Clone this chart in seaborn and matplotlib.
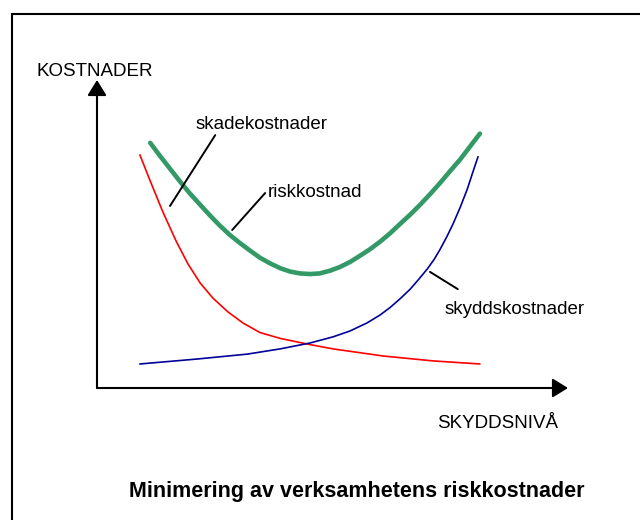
import matplotlib
matplotlib.use('Agg')
import matplotlib.pyplot as plt
from matplotlib.patches import Rectangle
import seaborn as sns
import pandas as pd

# skadekostnader (damage costs) - red
skade_x = [0.91, 1.13, 1.40, 1.68, 1.93, 2.19, 2.46, 2.78, 3.10, 3.46, 3.89, 4.52,
           5.01, 6.07, 7.13, 8.13]
skade_y = [7.57, 6.72, 5.71, 4.77, 4.03, 3.41, 2.92, 2.47, 2.11, 1.80, 1.61, 1.41,
           1.27, 1.04, 0.88, 0.78]

# skyddskostnader (protection costs) - blue
skydd_x = [0.91, 2.12, 3.19, 3.89, 4.52, 5.01, 5.37, 5.73, 6.01, 6.22, 6.43, 6.65,
           6.82, 7.01, 7.16, 7.28, 7.43, 7.56, 7.71, 7.86, 7.98, 8.09]
skydd_y = [0.78, 0.94, 1.10, 1.27, 1.46, 1.66, 1.85, 2.11, 2.37, 2.61, 2.89, 3.21,
           3.51, 3.86, 4.18, 4.49, 4.92, 5.33, 5.86, 6.45, 7.01, 7.51]

# riskkostnad (total risk cost) - green
risk_x = [1.13, 1.34, 1.55, 1.76, 1.97, 2.19, 2.40, 2.61, 2.82, 3.04, 3.25, 3.46,
          3.67, 3.89, 4.10, 4.31, 4.52, 4.73, 4.95, 5.16, 5.37, 5.58, 5.80, 6.01,
          6.22, 6.43, 6.65, 6.86, 7.07, 7.28, 7.49, 7.71, 7.92, 8.13]
risk_y = [7.96, 7.53, 7.12, 6.71, 6.32, 5.95, 5.60, 5.27, 4.97, 4.70, 4.46, 4.23,
          4.05, 3.89, 3.78, 3.72, 3.70, 3.72, 3.81, 3.93, 4.09, 4.29, 4.51, 4.75,
          5.02, 5.32, 5.63, 5.95, 6.29, 6.65, 7.03, 7.42, 7.84, 8.26]

sns.set_style('white')
plt.rcParams['font.family'] = ['Liberation Sans', 'DejaVu Sans']
plt.rcParams['text.color'] = 'black'

fig = plt.figure(figsize=(6.4, 5.2), dpi=100)
ax = fig.add_axes([97/640, 132/520, 471/640, 308/520])

sns.lineplot(data=pd.DataFrame({'x': skade_x, 'y': skade_y}), x='x', y='y',
             color='#ff0000', linewidth=1.2, ax=ax)
sns.lineplot(data=pd.DataFrame({'x': skydd_x, 'y': skydd_y}), x='x', y='y',
             color='#000099', linewidth=1.2, ax=ax)
sns.lineplot(data=pd.DataFrame({'x': risk_x, 'y': risk_y}), x='x', y='y',
             color='#339966', linewidth=3.3, ax=ax, solid_capstyle='round')
for ln in ax.lines:
    ln.set_solid_joinstyle('round')

ax.set_xlim(0, 10)
ax.set_ylim(0, 10)
ax.set_xlabel('')
ax.set_ylabel('')
ax.set_xticks([])
ax.set_yticks([])
for s in ax.spines.values():
    s.set_visible(False)

# axes with arrow heads
arrow = dict(arrowstyle='-|>,head_length=0.47,head_width=0.29', mutation_scale=20,
             color='black', lw=1.5, shrinkA=0, shrinkB=0)
ax.annotate('', xy=(0, 1), xytext=(0, 0), xycoords='axes fraction', arrowprops=arrow)
ax.annotate('', xy=(1, 0), xytext=(0, 0), xycoords='axes fraction', arrowprops=arrow)

# leader lines and labels
lead = dict(arrowstyle='-', color='black', lw=1.4, shrinkA=0, shrinkB=0)
ax.annotate('', xy=(1.55, 5.91), xytext=(2.51, 8.21), arrowprops=lead, annotation_clip=False)
ax.annotate('', xy=(2.87, 5.13), xytext=(3.57, 6.33), arrowprops=lead, annotation_clip=False)
ax.annotate('', xy=(7.66, 3.21), xytext=(7.07, 3.77), arrowprops=lead, annotation_clip=False)

ax.text(2.10, 8.57, 'skadekostnader', fontsize=13.5, va='center', ha='left')
ax.text(3.63, 6.36, 'riskkostnad', fontsize=13.5, va='center', ha='left')
ax.text(7.37, 2.56, 'skyddskostnader', fontsize=13.5, va='center', ha='left')

fig.text(36/640, 1 - 72/520, 'KOSTNADER', fontsize=13.5, va='center', ha='left')
fig.text(558/640, 1 - 424/520, 'SKYDDSNIVÅ', fontsize=13.5, va='center', ha='right')
fig.text(357/640, 1 - 492/520, 'Minimering av verksamhetens riskkostnader',
         fontsize=15.5, fontweight='bold', va='center', ha='center')

# frame round the picture (cut off at right and bottom)
fig.add_artist(Rectangle((12/640, -0.1), 1.0, 1 - 14/520 + 0.1, transform=fig.transFigure,
                         fill=False, edgecolor='black', lw=1.5))

fig.savefig('out.png', dpi=100)
